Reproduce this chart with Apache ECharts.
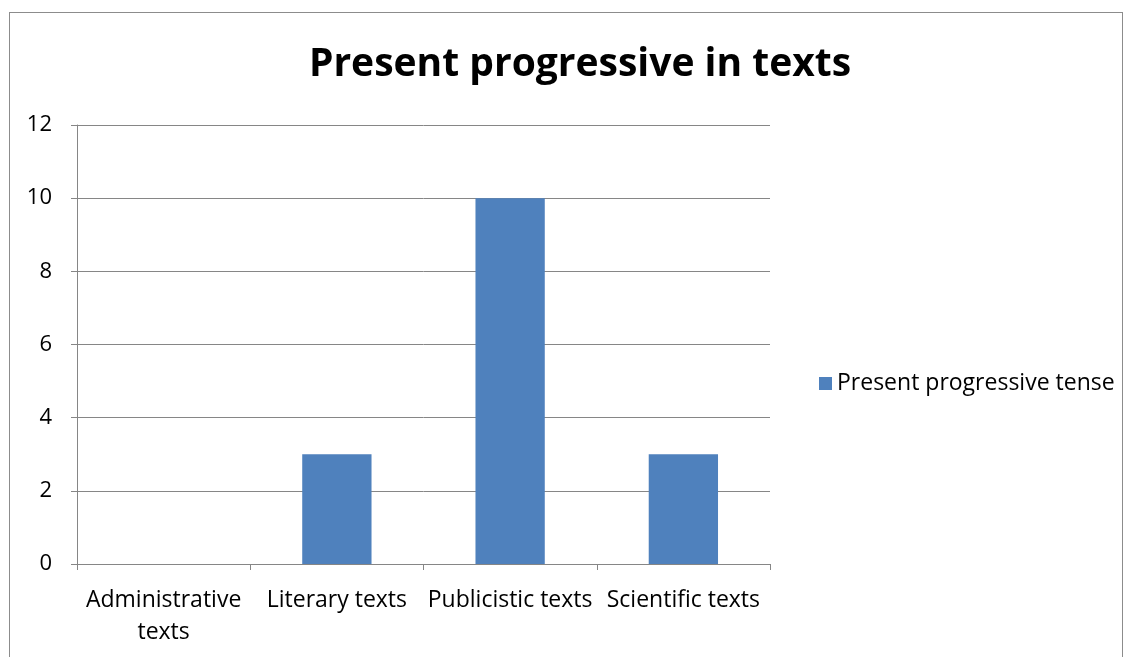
<!DOCTYPE html>
<html>
<head>
<meta charset="utf-8">
<script src="https://cdn.jsdelivr.net/npm/echarts@6/dist/echarts.min.js"></script>
<style>
  html, body { margin: 0; padding: 0; background: #fff; }
  #frame { position: absolute; left: 9px; top: 12px; width: 1112px; height: 660px; border: 1px solid #8c8c8c; }
  #chart { position: absolute; left: 0; top: 0; width: 1130px; height: 657px; }
</style>
</head>
<body>
<div id="frame"></div>
<div id="chart"></div>
<script>
// 数据
const categories = ['Administrative\ntexts', 'Literary texts', 'Publicistic texts', 'Scientific texts'];
const seriesName = 'Present progressive tense';
const values = [0, 3, 10, 3];

const chart = echarts.init(document.getElementById('chart'));
const font = "'Open Sans', 'Noto Sans', sans-serif";

const options = {
  animation: false,
  textStyle: { fontFamily: font },
  title: {
    text: 'Present progressive in texts',
    left: 575,
    textAlign: 'center',
    top: 40,
    textStyle: { fontSize: 39, fontWeight: 'bold', color: '#000', fontFamily: font }
  },
  legend: {
    left: 814,
    top: 367,
    icon: 'rect',
    itemWidth: 13,
    itemHeight: 13,
    itemGap: 8,
    textStyle: { fontSize: 23, color: '#000', fontFamily: font },
    data: [seriesName]
  },
  grid: { left: 77, right: 360, top: 125, bottom: 93 },
  xAxis: {
    type: 'category',
    data: categories,
    axisLine: { lineStyle: { color: '#868686', width: 1 } },
    axisTick: { show: true, length: 6, lineStyle: { color: '#868686' } },
    axisLabel: { fontSize: 23, color: '#000', margin: 20, lineHeight: 32, interval: 0 }
  },
  yAxis: {
    type: 'value',
    min: 0,
    max: 12,
    interval: 2,
    axisLine: { show: true, lineStyle: { color: '#868686' } },
    axisTick: { show: true, length: 6, lineStyle: { color: '#868686' } },
    splitLine: { lineStyle: { color: '#868686' } },
    axisLabel: { fontSize: 22, color: '#000', margin: 25 }
  },
  series: [
    {
      name: seriesName,
      type: 'bar',
      data: values,
      barWidth: '40%',
      itemStyle: { color: '#4f81bd' }
    }
  ]
};
chart.setOption(options);
</script>
</body>
</html>
